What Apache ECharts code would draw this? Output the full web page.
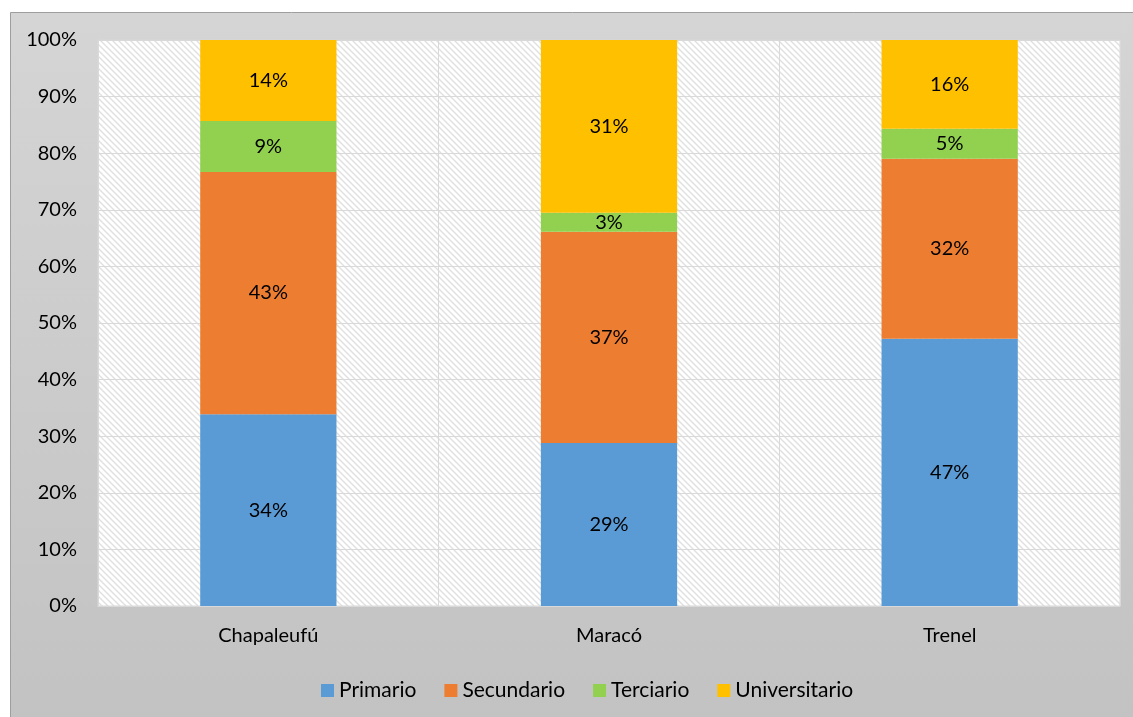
<!DOCTYPE html>
<html>
<head>
<meta charset="utf-8">
<script src="https://cdn.jsdelivr.net/npm/echarts@6/dist/echarts.min.js"></script>
<style>
  html, body { margin: 0; padding: 0; background: #fff; }
  #main { width: 1133px; height: 717px; }
</style>
</head>
<body>
<div id="main"></div>
<script>
// datos
var localidades = ['Chapaleufú', 'Maracó', 'Trenel'];
var niveles = ['Primario', 'Secundario', 'Terciario', 'Universitario'];
var primario = [33.9, 28.8, 47.2];
var secundario = [42.8, 37.3, 31.8];
var terciario = [9.0, 3.4, 5.3];
var universitario = [14.3, 30.5, 15.7];
var colores = ['#5b9bd5', '#ed7d31', '#92d050', '#ffc000'];
var yTicks = [0, 10, 20, 30, 40, 50, 60, 70, 80, 90, 100];

// patron rayado del area de trazado
function makeHatch() {
  var c = document.createElement('canvas');
  c.width = 6; c.height = 6;
  var ctx = c.getContext('2d');
  ctx.fillStyle = '#ffffff';
  ctx.fillRect(0, 0, 6, 6);
  ctx.strokeStyle = '#e0e0e0';
  ctx.lineWidth = 1.4;
  ctx.beginPath();
  ctx.moveTo(-1, -1); ctx.lineTo(7, 7);
  ctx.moveTo(-1, 5); ctx.lineTo(1, 7);
  ctx.moveTo(5, -1); ctx.lineTo(7, 1);
  ctx.stroke();
  return c;
}

var fuente = 'Lato, "Open Sans", sans-serif';
var myChart = echarts.init(document.getElementById('main'));

function serie(name, data, idx) {
  return {
    name: name,
    type: 'bar',
    stack: 'total',
    barWidth: '40%',
    data: data,
    itemStyle: { color: colores[idx] },
    label: {
      show: true,
      position: 'inside',
      color: '#000',
      fontSize: 20,
      fontFamily: fuente,
      formatter: function (p) { return Math.round(p.value) + '%'; }
    }
  };
}

var option = {
  animation: false,
  graphic: [
    {
      type: 'rect',
      z: -10,
      shape: { x: 10.5, y: 12.5, width: 1140, height: 720 },
      style: {
        fill: new echarts.graphic.LinearGradient(0, 0, 0, 1, [
          { offset: 0, color: '#d5d5d5' },
          { offset: 1, color: '#c2c2c2' }
        ]),
        stroke: '#9e9e9e',
        lineWidth: 1
      }
    }
  ],
  grid: {
    left: 98,
    right: 13,
    top: 40,
    bottom: 111,
    show: true,
    backgroundColor: { image: makeHatch(), repeat: 'repeat' },
    borderColor: '#d9d9d9',
    borderWidth: 1
  },
  legend: {
    data: niveles,
    left: 316,
    top: 675,
    itemWidth: 13,
    itemHeight: 13,
    itemGap: 28,
    icon: 'rect',
    textStyle: { color: '#000', fontSize: 21, fontFamily: fuente }
  },
  xAxis: {
    type: 'category',
    data: localidades,
    axisLine: { show: true, lineStyle: { color: '#d9d9d9' } },
    axisTick: { show: false },
    axisLabel: { color: '#000', fontSize: 20, fontFamily: fuente, margin: 20 },
    splitLine: { show: true, lineStyle: { color: '#d9d9d9', width: 1 } }
  },
  yAxis: {
    type: 'value',
    min: yTicks[0],
    max: yTicks[yTicks.length - 1],
    interval: 10,
    axisLine: { show: false },
    axisTick: { show: false },
    axisLabel: {
      color: '#000', fontSize: 20, fontFamily: fuente, margin: 21,
      formatter: '{value}%'
    },
    splitLine: { lineStyle: { color: '#d9d9d9', width: 1 } }
  },
  series: [
    serie(niveles[0], primario, 0),
    serie(niveles[1], secundario, 1),
    serie(niveles[2], terciario, 2),
    serie(niveles[3], universitario, 3)
  ]
};
myChart.setOption(option);
</script>
</body>
</html>
